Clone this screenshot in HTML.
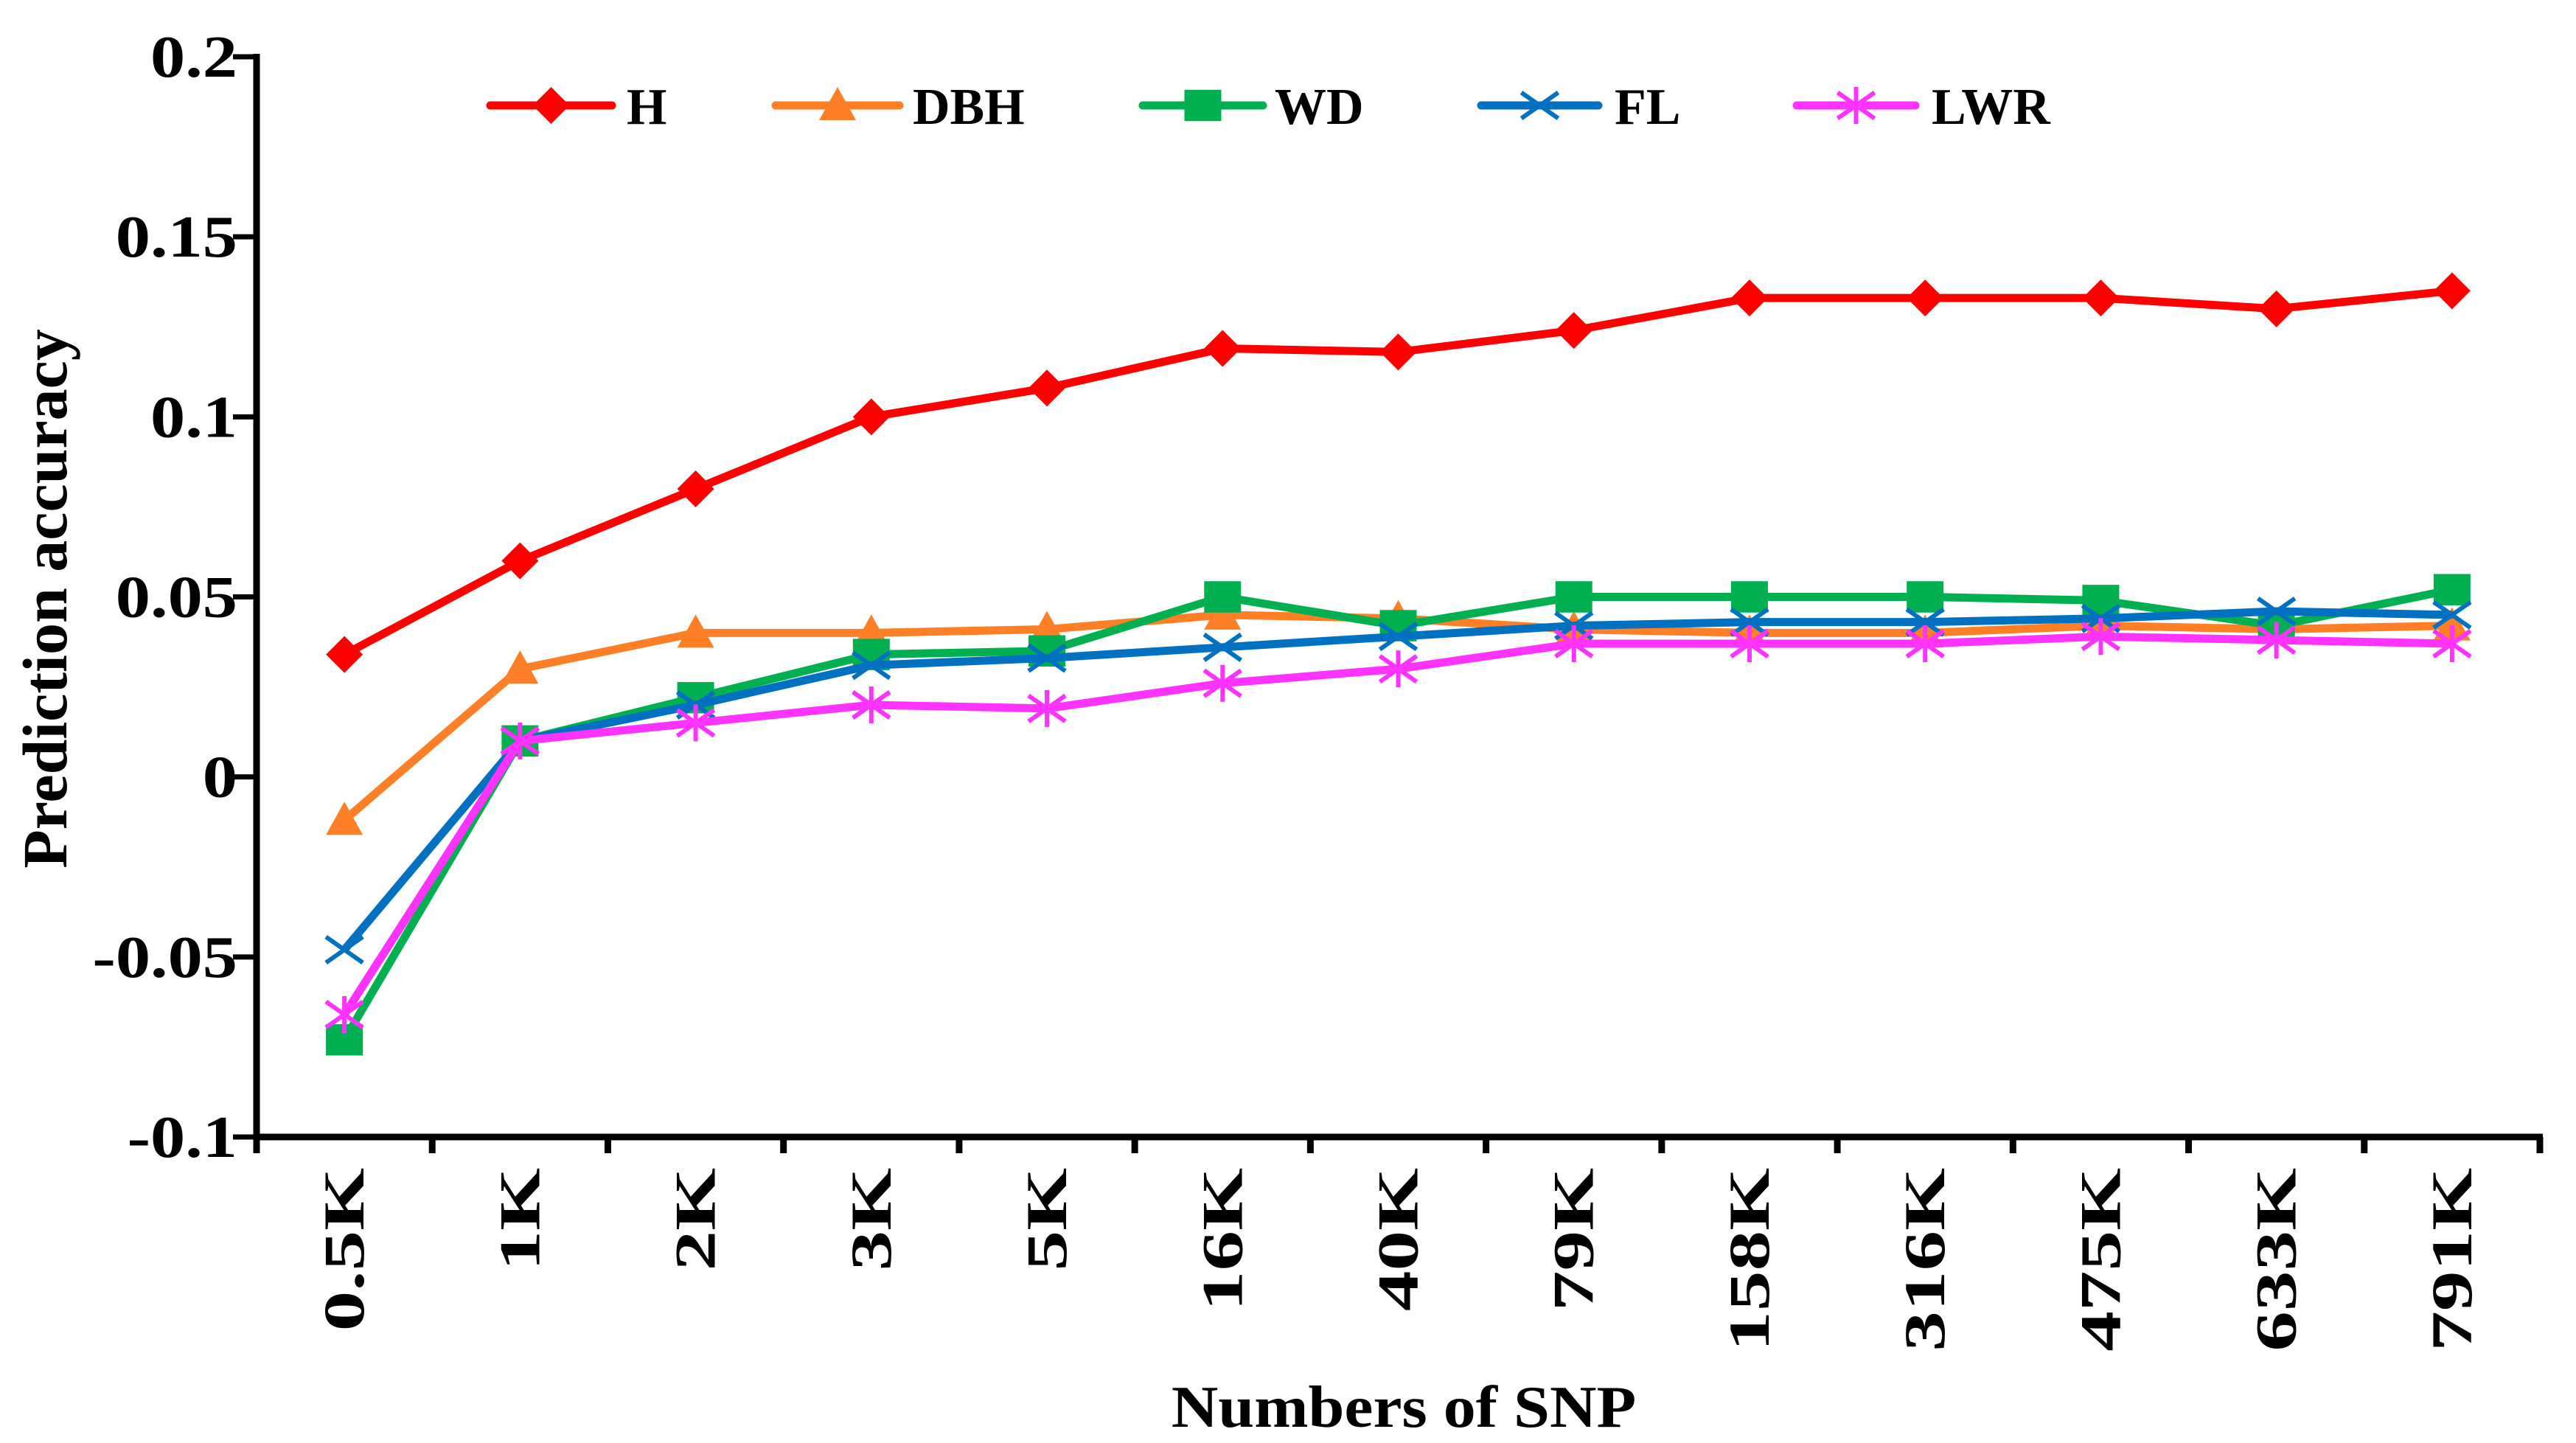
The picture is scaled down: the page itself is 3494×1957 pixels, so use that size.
<!DOCTYPE html>
<html><head><meta charset="utf-8"><style>
html,body{margin:0;padding:0;background:#fff}
svg text{font-family:"Liberation Serif",serif;font-weight:bold;fill:#000}
</style></head><body>
<svg id="chart" width="3494" height="1952" viewBox="0 0 3494 1952" xmlns="http://www.w3.org/2000/svg"></svg>
<script>
const categories=["0.5K","1K","2K","3K","5K","16K","40K","79K","158K","316K","475K","633K","791K"];
const yTicks=[-0.1,-0.05,0,0.05,0.1,0.15,0.2];
const yTickLabels=["-0.1","-0.05","0","0.05","0.1","0.15","0.2"];
const seriesNames=["H","DBH","WD","FL","LWR"];
const H=[0.034,0.060,0.080,0.100,0.108,0.119,0.118,0.124,0.133,0.133,0.133,0.130,0.135];
const DBH=[-0.012,0.030,0.040,0.040,0.041,0.045,0.044,0.041,0.040,0.040,0.042,0.041,0.042];
const WD=[-0.073,0.010,0.022,0.034,0.035,0.050,0.042,0.050,0.050,0.050,0.049,0.042,0.052];
const FL=[-0.048,0.010,0.020,0.031,0.033,0.036,0.039,0.042,0.043,0.043,0.044,0.046,0.045];
const LWR=[-0.066,0.010,0.015,0.020,0.019,0.026,0.030,0.037,0.037,0.037,0.039,0.038,0.037];

const svg=document.getElementById('chart');
const NS="http://www.w3.org/2000/svg";
const X0=348,X1=3445,Y0=77,Y1=1542,YMIN=-0.1,YMAX=0.2;
const band=(X1-X0)/categories.length;
function xPos(i){return X0+band*(i+0.5);}
function yPos(v){return Y1-(v-YMIN)/(YMAX-YMIN)*(Y1-Y0);}
function mk(tag,attrs,parent){const e=document.createElementNS(NS,tag);for(const k in attrs)e.setAttribute(k,attrs[k]);(parent||svg).appendChild(e);return e;}

const styles=[
 {c:"#ff0000",m:"diamond"},{c:"#ff7f27",m:"triangle"},{c:"#00b050",m:"square"},{c:"#0070c0",m:"x"},{c:"#ff33ff",m:"star"}];
const data=[H,DBH,WD,FL,LWR];

function marker(g,type,x,y,c){
 const s=25;
 if(type==="diamond")mk('polygon',{points:`${x},${y-s} ${x+s},${y} ${x},${y+s} ${x-s},${y}`,fill:c},g);
 else if(type==="triangle")mk('polygon',{points:`${x},${y-s} ${x+s},${y+s*0.8} ${x-s},${y+s*0.8}`,fill:c},g);
 else if(type==="square")mk('rect',{x:x-s,y:y-s*0.85,width:2*s,height:1.7*s,fill:c},g);
 else if(type==="x"){mk('path',{d:`M${x-s} ${y-s*0.7}L${x+s} ${y+s*0.7}M${x-s} ${y+s*0.7}L${x+s} ${y-s*0.7}`,stroke:c,'stroke-width':6,fill:'none'},g);}
 else {mk('path',{d:`M${x-s} ${y-s*0.7}L${x+s} ${y+s*0.7}M${x-s} ${y+s*0.7}L${x+s} ${y-s*0.7}M${x} ${y-s}L${x} ${y+s}`,stroke:c,'stroke-width':6,fill:'none'},g);}
}

const axes=mk('g',{});


mk('line',{x1:X0,y1:Y0-4,x2:X0,y2:Y1+4,stroke:'#000','stroke-width':9},axes);
mk('line',{x1:X0,y1:Y1,x2:X1+4,y2:Y1,stroke:'#000','stroke-width':9},axes);
yTicks.forEach((v,i)=>{
 const y=yPos(v);
 mk('line',{x1:X0-32,y1:y,x2:X0,y2:y,stroke:'#000','stroke-width':7},axes);
 const t=mk('text',{x:0,y:0,'text-anchor':'end','font-size':80,transform:`translate(322,${y+27}) scale(1.18,1)`},axes);
 t.textContent=yTickLabels[i];
 
 
});
for(let i=0;i<=categories.length;i++){
 const x=X0+band*i;
 mk('line',{x1:x,y1:Y1,x2:x,y2:Y1+22,stroke:'#000','stroke-width':9},axes);
}
categories.forEach((c,i)=>{
 const x=xPos(i);
 const t=mk('text',{x:0,y:0,'text-anchor':'end','font-size':78,transform:`translate(${x+26},1584) rotate(-90) scale(1.4,1)`},axes);
 t.textContent=c;
 
 
});
const xt=mk('text',{x:0,y:0,'text-anchor':'middle','font-size':80,transform:'translate(1904,1935) scale(1.1,1)'});
xt.textContent="Numbers of SNP";


const yt=mk('text',{x:0,y:0,'text-anchor':'middle','font-size':86,transform:`translate(90,812) rotate(-90)`});
yt.textContent="Prediction accuracy";



data.forEach((arr,si)=>{
 const g=mk('g',{});
 
 
 const pts=arr.map((v,i)=>`${xPos(i)},${yPos(v)}`).join(' ');
 mk('polyline',{points:pts,fill:'none',stroke:styles[si].c,'stroke-width':11,'stroke-linejoin':'round'},g);
 arr.forEach((v,i)=>marker(g,styles[si].m,xPos(i),yPos(v),styles[si].c));
});

const legX=[[665,830,850],[1052,1220,1238],[1550,1713,1729],[2009,2168,2190],[2437,2598,2620]];
const LY=143;
seriesNames.forEach((n,i)=>{
 const g=mk('g',{});
 
 
 mk('line',{x1:legX[i][0],y1:LY,x2:legX[i][1],y2:LY,stroke:styles[i].c,'stroke-width':11,'stroke-linecap':'round'},g);
 marker(g,styles[i].m,(legX[i][0]+legX[i][1])/2,LY,styles[i].c);
 const t=mk('text',{x:legX[i][2],y:LY+25,'font-size':70},g);
 t.textContent=n;
});
</script>
</body></html>
